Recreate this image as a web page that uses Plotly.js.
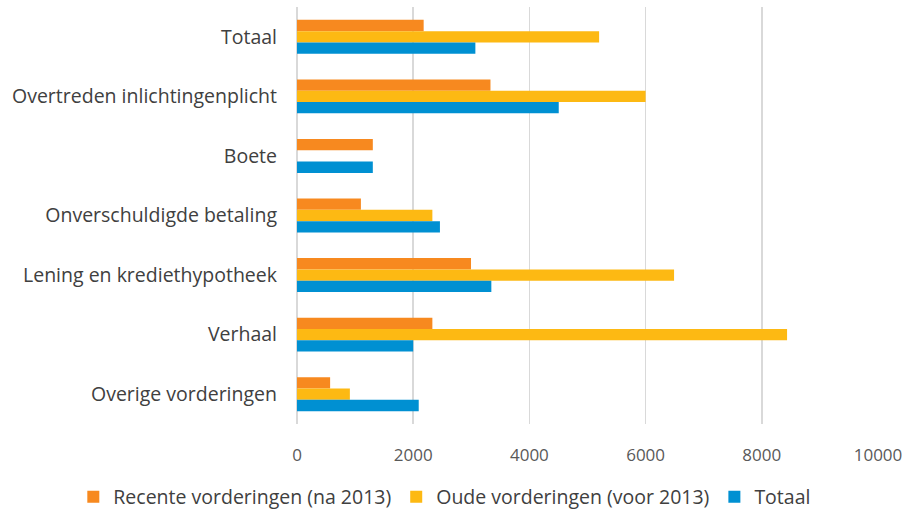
<!DOCTYPE html>
<html>
<head>
<meta charset="utf-8">
<script src="https://cdn.plot.ly/plotly-3.0.1.min.js"></script>
<style>
html, body { margin: 0; padding: 0; background: #ffffff; }
#chart { width: 909px; height: 515px; }
</style>
</head>
<body>
<div id="chart"></div>
<script>
const categories = [
  "Totaal",
  "Overtreden inlichtingenplicht",
  "Boete",
  "Onverschuldigde betaling",
  "Lening en krediethypotheek",
  "Verhaal",
  "Overige vorderingen"
];
const seriesNames = [
  "Recente vorderingen (na 2013)",
  "Oude vorderingen (voor 2013)",
  "Totaal"
];
const recente = [2180, 3330, 1305, 1100, 2995, 2330, 570];
const oude    = [5200, 6000, 0, 2330, 6490, 8435, 910];
const totaal  = [3070, 4505, 1305, 2460, 3345, 2000, 2095];
const xTicks  = [0, 2000, 4000, 6000, 8000, 10000];

const colors = ["#F7891F", "#FDB913", "#0090D2"];
const values = [recente, oude, totaal];
const FONT = "'Open Sans', Lato, sans-serif";

const traces = values.map((v, i) => ({
  type: "bar",
  orientation: "h",
  name: seriesNames[i],
  y: categories,
  x: v,
  marker: { color: colors[i], line: { width: 0 } },
  hoverinfo: "x+name"
}));

const layout = {
  width: 909,
  height: 515,
  margin: { l: 297, r: 31, t: 7, b: 91, autoexpand: false },
  paper_bgcolor: "#ffffff",
  plot_bgcolor: "#ffffff",
  barmode: "group",
  bargap: 0.43,
  bargroupgap: 0,
  font: { family: FONT, color: "#404040" },
  xaxis: {
    range: [0, 10000],
    tickvals: xTicks,
    ticktext: xTicks.map(String),
    showgrid: true,
    gridcolor: "#d9d9d9",
    gridwidth: 1.5,
    zeroline: true,
    zerolinecolor: "#d9d9d9",
    zerolinewidth: 1.5,
    showline: false,
    ticks: "",
    ticklabelstandoff: 19,
    tickfont: { size: 17, color: "#595959", family: FONT },
    fixedrange: true
  },
  yaxis: {
    type: "category",
    autorange: "reversed",
    showgrid: false,
    zeroline: false,
    showline: false,
    ticks: "",
    ticklabelstandoff: 19,
    tickfont: { size: 19.5, color: "#404040", family: FONT },
    fixedrange: true
  },
  showlegend: true,
  legend: {
    orientation: "h",
    x: -0.385,
    xanchor: "left",
    y: -0.175,
    yanchor: "middle",
    font: { size: 19.5, color: "#404040", family: FONT },
    traceorder: "normal",
    itemclick: false,
    itemdoubleclick: false
  }
};

Plotly.newPlot("chart", traces, layout, { displayModeBar: false, staticPlot: true });
</script>
</body>
</html>
